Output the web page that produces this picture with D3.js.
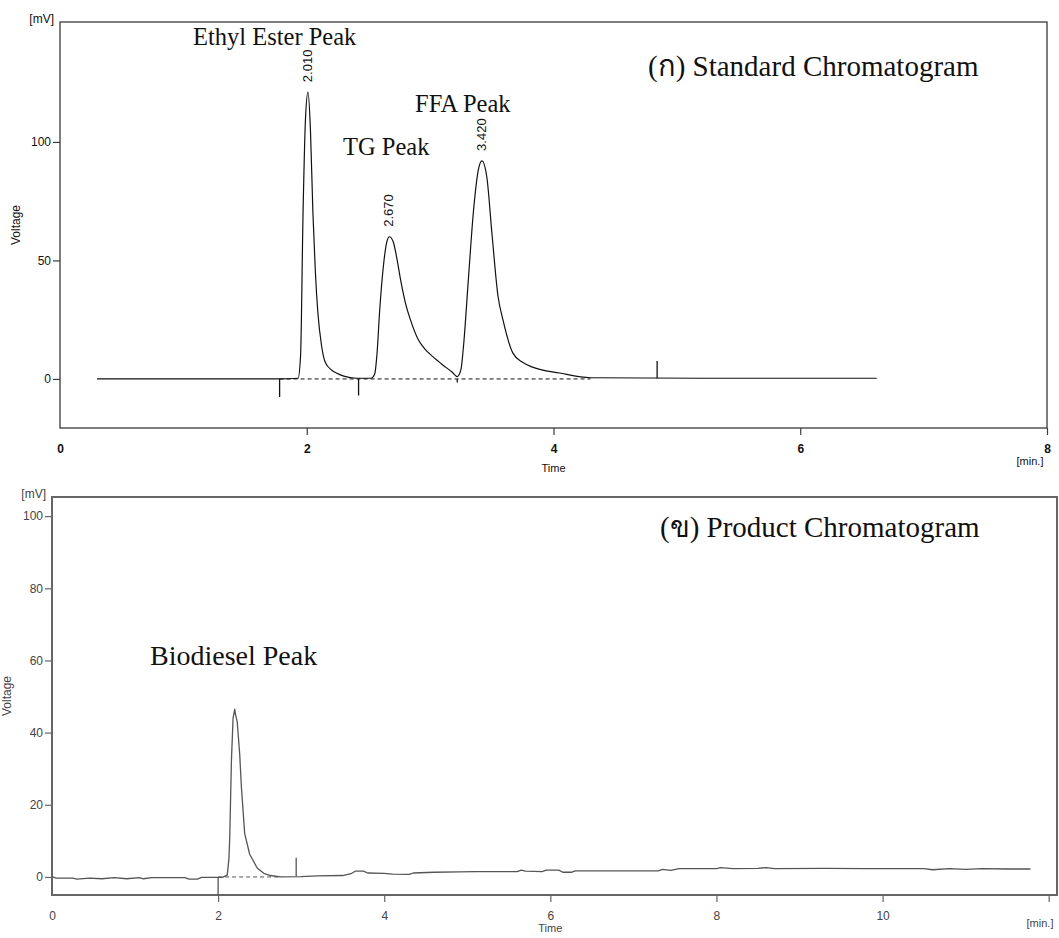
<!DOCTYPE html>
<html>
<head>
<meta charset="utf-8">
<script src="https://cdn.jsdelivr.net/npm/d3@7"></script>
<style>
  body { margin: 0; background: #fff; }
  svg { display: block; }
  .tick-lbl { font-family: "Liberation Sans", Arial, sans-serif; }
  .serif { font-family: "Liberation Serif", "Times New Roman", serif; }
</style>
</head>
<body>
<div id="chart"></div>
<script>
// ---- top chart: standard chromatogram (time [min], voltage [mV]) ----
const stdTrace = [
  [0.30, 0], [1.78, 0], [1.93, 0.3], [1.95, 10], [1.97, 70], [1.99, 110], [2.01, 121],
  [2.03, 105], [2.05, 70], [2.07, 45], [2.09, 28], [2.12, 14], [2.15, 7], [2.20, 3.8],
  [2.24, 2.5], [2.30, 1.2], [2.40, 0.3], [2.52, 0.3], [2.55, 2], [2.57, 11], [2.59, 28],
  [2.62, 47], [2.65, 58], [2.67, 60], [2.70, 58], [2.73, 51], [2.76, 42], [2.80, 32],
  [2.84, 25], [2.90, 17], [2.96, 12.5], [3.02, 9.5], [3.10, 6], [3.18, 2.8], [3.22, 1],
  [3.25, 4], [3.27, 13.5], [3.31, 42], [3.35, 70], [3.39, 88], [3.42, 92], [3.46, 85],
  [3.50, 62], [3.55, 35], [3.59, 25], [3.67, 11], [3.75, 7], [3.83, 5], [4.05, 2.5],
  [4.30, 0.5], [5.20, 0.3], [6.62, 0.3]
];
const stdMarks = [[1.78, 0, -7.6], [2.42, 0, -7], [3.22, 0, -1.5], [4.84, 0.3, 7.6]];
const stdBaseline = [[1.78, 0], [4.30, 0]];
const stdPeakTimes = [2.01, 2.67, 3.42];
const stdPeakHeights = [121, 60, 92];
const stdPeakLabels = ["2.010", "2.670", "3.420"];
const stdXTicks = [0, 2, 4, 6, 8];
const stdYTicks = [0, 50, 100];

// ---- bottom chart: product chromatogram ----
const prodTrace = [
  [0, 0.1], [0.05, -0.3], [0.25, -0.3], [0.30, -0.6], [0.45, -0.3], [0.60, -0.5],
  [0.75, -0.2], [0.90, -0.5], [1.05, -0.2], [1.10, -0.5], [1.20, -0.2], [1.60, -0.2],
  [1.65, -0.6], [1.75, -0.6], [1.80, -0.1], [2.05, -0.1], [2.11, 0.5], [2.13, 5],
  [2.14, 11], [2.16, 32], [2.18, 44], [2.20, 46.5], [2.21, 45], [2.23, 43], [2.26, 34],
  [2.28, 25], [2.32, 12], [2.38, 6.3], [2.47, 2.5], [2.55, 1], [2.63, 0.4], [2.75, 0],
  [3.00, 0.1], [3.20, 0.3], [3.50, 0.4], [3.60, 0.9], [3.65, 1.6], [3.75, 1.6],
  [3.80, 1.1], [4.00, 1.0], [4.10, 0.8], [4.30, 0.7], [4.35, 1.1], [4.60, 1.3],
  [4.90, 1.4], [5.10, 1.5], [5.60, 1.5], [5.65, 1.9], [5.70, 1.6], [5.90, 1.5],
  [5.95, 1.9], [6.10, 1.9], [6.15, 1.3], [6.25, 1.3], [6.30, 1.7], [7.30, 1.7],
  [7.35, 2.1], [7.45, 1.8], [7.55, 2.3], [8.00, 2.3], [8.05, 2.6], [8.20, 2.3],
  [8.50, 2.4], [8.60, 2.6], [8.70, 2.3], [9.30, 2.4], [9.80, 2.3], [10.50, 2.3],
  [10.60, 2.0], [10.80, 2.3], [11.00, 2.1], [11.20, 2.3], [11.50, 2.2], [11.78, 2.2]
];
const prodMarks = [[2.00, 0, -5], [2.94, 0.1, 5.3]];
const prodBaseline = [[2.00, 0], [2.75, 0]];
const prodXTicks = [0, 2, 4, 6, 8, 10, 12];
const prodYTicks = [0, 20, 40, 60, 80, 100];

const W = 1059, H = 938;
const svg = d3.select("#chart").append("svg")
  .attr("width", W).attr("height", H)
  .style("background", "#fff");

function drawPanel(cfg) {
  const x = d3.scaleLinear().domain(cfg.xDomain).range([cfg.left, cfg.right]);
  const y = d3.scaleLinear().domain(cfg.yDomain).range([cfg.bottom, cfg.top]);
  const g = svg.append("g");

  // frame
  g.append("rect")
    .attr("x", cfg.left).attr("y", cfg.top)
    .attr("width", cfg.right - cfg.left).attr("height", cfg.bottom - cfg.top)
    .attr("fill", "none")
    .attr("stroke", cfg.frameColor)
    .attr("stroke-width", cfg.frameWidth);

  // y axis
  const yAxis = d3.axisLeft(y).tickValues(cfg.yTicks).tickSize(7).tickPadding(2);
  const gy = g.append("g").attr("transform", `translate(${cfg.left},0)`).call(yAxis);
  gy.select(".domain").remove();
  gy.selectAll("line").attr("stroke", cfg.frameColor).attr("stroke-width", 1.2);
  gy.selectAll("text").attr("class", "tick-lbl")
    .style("font-size", "12px").attr("fill", cfg.textColor);

  // x axis
  const xAxis = d3.axisBottom(x).tickValues(cfg.xTicks).tickSize(7).tickPadding(9);
  const gx = g.append("g").attr("transform", `translate(0,${cfg.bottom})`).call(xAxis);
  gx.select(".domain").remove();
  gx.selectAll("line").attr("stroke", cfg.frameColor).attr("stroke-width", 1.2);
  gx.selectAll("text").attr("class", "tick-lbl")
    .style("font-size", "12px")
    .style("font-weight", cfg.xBold ? "bold" : "normal")
    .attr("fill", cfg.textColor);
  gx.selectAll(".tick").filter(d => d === 0).select("line").remove();

  // unit / axis labels
  g.append("text").attr("class", "tick-lbl")
    .attr("x", cfg.left - 6).attr("y", cfg.top + 1)
    .attr("text-anchor", "end")
    .style("font-size", "12px").attr("fill", cfg.textColor)
    .text("[mV]");
  g.append("text").attr("class", "tick-lbl")
    .attr("transform", `translate(${cfg.voltX},${(cfg.top + cfg.bottom) / 2}) rotate(-90)`)
    .attr("text-anchor", "middle")
    .style("font-size", "12px").attr("fill", cfg.textColor)
    .text("Voltage");
  g.append("text").attr("class", "tick-lbl")
    .attr("x", x(cfg.timeAt)).attr("y", cfg.bottom + cfg.timeDy)
    .attr("text-anchor", "middle")
    .style("font-size", "11px").attr("fill", cfg.textColor)
    .text("Time");
  g.append("text").attr("class", "tick-lbl")
    .attr("x", cfg.minX).attr("y", cfg.bottom + cfg.minDy)
    .attr("text-anchor", "middle")
    .style("font-size", "11px").attr("fill", cfg.textColor)
    .text("[min.]");

  // dashed baseline
  g.append("path")
    .datum(cfg.baseline)
    .attr("d", d3.line().x(d => x(d[0])).y(d => y(d[1])))
    .attr("fill", "none")
    .attr("stroke", cfg.lineColor)
    .attr("stroke-width", 1)
    .attr("stroke-dasharray", "4,3");

  // trace
  g.append("path")
    .datum(cfg.trace)
    .attr("d", d3.line().x(d => x(d[0])).y(d => y(d[1])).curve(cfg.curve))
    .attr("fill", "none")
    .attr("stroke", cfg.lineColor)
    .attr("stroke-width", cfg.lineWidth)
    .attr("stroke-linejoin", "round");

  // integration marks
  g.selectAll(".mark")
    .data(cfg.marks)
    .enter().append("line")
    .attr("x1", d => x(d[0])).attr("x2", d => x(d[0]))
    .attr("y1", d => y(d[1])).attr("y2", d => y(d[2]))
    .attr("stroke", cfg.lineColor)
    .attr("stroke-width", 1.3);

  return { x, y, g };
}

// === top panel ===
const stdPanel = drawPanel({
  xDomain: [0, 8], yDomain: [-20.7, 150.6],
  left: 60, right: 1047, top: 22, bottom: 428,
  xTicks: stdXTicks, yTicks: stdYTicks, xBold: true,
  frameColor: "#3a3a3a", frameWidth: 1.3, textColor: "#111",
  lineColor: "#111", lineWidth: 1.2, curve: d3.curveMonotoneX,
  trace: stdTrace, marks: stdMarks, baseline: stdBaseline,
  voltX: 20, timeAt: 4, minX: 1030, timeDy: 44, minDy: 37
});

stdPanel.g.selectAll(".peak-lbl")
  .data(stdPeakTimes)
  .enter().append("text")
  .attr("class", "tick-lbl")
  .attr("transform", (d, i) =>
    `translate(${stdPanel.x(d) + 4},${stdPanel.y(stdPeakHeights[i]) - 10}) rotate(-90)`)
  .attr("text-anchor", "start")
  .style("font-size", "13px")
  .attr("fill", "#111")
  .text((d, i) => stdPeakLabels[i]);

const topNotes = [
  { t: "Ethyl Ester Peak", x: 193, y: 45, s: 24.5 },
  { t: "TG Peak", x: 343, y: 155, s: 24.5 },
  { t: "FFA Peak", x: 415, y: 112, s: 24.5 },
  { t: "(ก) Standard Chromatogram", x: 648, y: 76, s: 29 }
];
stdPanel.g.selectAll(".note")
  .data(topNotes)
  .enter().append("text")
  .attr("class", "serif")
  .attr("x", d => d.x).attr("y", d => d.y)
  .style("font-size", d => d.s + "px")
  .attr("fill", "#111")
  .text(d => d.t);

// === bottom panel ===
const prodPanel = drawPanel({
  xDomain: [0, 12.1], yDomain: [-5, 105.3],
  left: 52, right: 1057, top: 497, bottom: 895,
  xTicks: prodXTicks, yTicks: prodYTicks, xBold: false,
  frameColor: "#666", frameWidth: 2, textColor: "#444",
  lineColor: "#555", lineWidth: 1.3, curve: d3.curveLinear,
  trace: prodTrace, marks: prodMarks, baseline: prodBaseline,
  voltX: 11, timeAt: 6, minX: 1040, timeDy: 37, minDy: 32
});
prodPanel.g.selectAll(".tick").filter(d => d === 12).select("text").remove();

const botNotes = [
  { t: "Biodiesel Peak", x: 150, y: 665, s: 28 },
  { t: "(ข) Product Chromatogram", x: 660, y: 537, s: 29 }
];
prodPanel.g.selectAll(".note")
  .data(botNotes)
  .enter().append("text")
  .attr("class", "serif")
  .attr("x", d => d.x).attr("y", d => d.y)
  .style("font-size", d => d.s + "px")
  .attr("fill", "#111")
  .text(d => d.t);
</script>
</body>
</html>
